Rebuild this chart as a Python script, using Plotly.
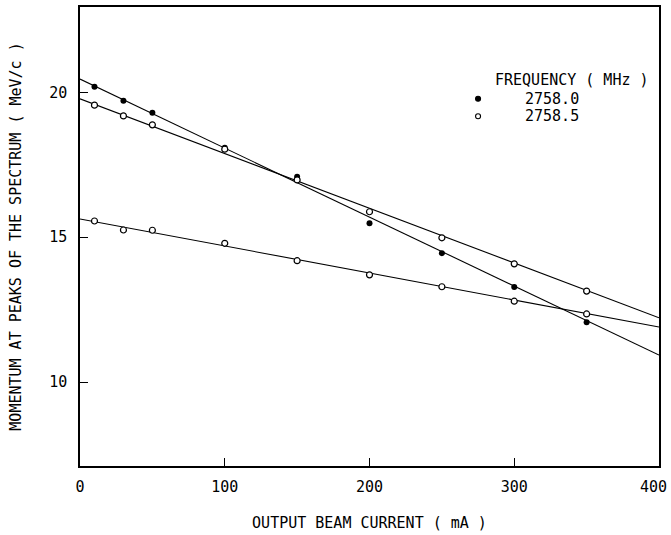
import plotly.graph_objects as go

# Beam current (mA) at which the spectrum peaks were measured
current = [10, 30, 50, 100, 150, 200, 250, 300, 350]

# Momentum at the spectrum peaks (MeV/c)
peak_2758_0 = [20.20, 19.71, 19.30, 18.09, 17.09, 15.48, 14.45, 13.28, 12.06]
peak_2758_5_high = [19.56, 19.19, 18.88, 18.04, 16.98, 15.88, 14.98, 14.08, 13.14]
peak_2758_5_low = [15.56, 15.25, 15.24, 14.79, 14.19, 13.70, 13.29, 12.79, 12.35]

# Straight-line fits through each set, given by their end values
fit_current = [0, 400]
fit_2758_0 = [20.46, 10.93]
fit_2758_5_high = [19.78, 12.22]
fit_2758_5_low = [15.63, 11.90]

x_ticks = [0, 100, 200, 300, 400]
y_ticks = [10, 15, 20]

FONT = "DejaVu Sans Mono"
INK = "black"

fig = go.Figure()

for fit in (fit_2758_0, fit_2758_5_high, fit_2758_5_low):
    fig.add_trace(go.Scatter(
        x=fit_current, y=fit, mode="lines",
        line=dict(color=INK, width=1.1), showlegend=False, hoverinfo="skip",
    ))

fig.add_trace(go.Scatter(
    x=current, y=peak_2758_0, mode="markers", name="2758.0",
    marker=dict(symbol="circle", size=6, color=INK, line=dict(color=INK, width=0)),
    showlegend=False,
))
for series in (peak_2758_5_high, peak_2758_5_low):
    fig.add_trace(go.Scatter(
        x=current, y=series, mode="markers", name="2758.5",
        marker=dict(symbol="circle", size=6, color="white", line=dict(color=INK, width=1.2)),
        showlegend=False,
    ))

# Key in the upper right corner
key_x = 275
fig.add_annotation(x=285, y=20.43, xref="x", yref="y", text="FREQUENCY ( MHz )",
                   showarrow=False, xanchor="left", yanchor="middle",
                   font=dict(family=FONT, size=15, color=INK))
for yv, label, fill in ((19.78, "2758.0", INK), (19.18, "2758.5", "white")):
    fig.add_shape(type="circle", xref="x", yref="y", xsizemode="pixel", ysizemode="pixel",
                  xanchor=key_x, yanchor=yv, x0=-2.5, x1=2.5, y0=-2.5, y1=2.5,
                  fillcolor=fill, line=dict(color=INK, width=1.1))
    fig.add_annotation(x=306, y=yv, xref="x", yref="y", text=label,
                       showarrow=False, xanchor="left", yanchor="middle",
                       font=dict(family=FONT, size=15, color=INK))

axis_common = dict(
    showline=True, linecolor=INK, linewidth=1.5, mirror=True,
    showgrid=False, zeroline=False,
    ticks="inside", ticklen=8, tickwidth=1.2, tickcolor=INK,
    tickfont=dict(family=FONT, size=15, color=INK),
    automargin=False,
)

# The last x label sits flush against the right edge, so it is placed
# right-aligned at its tick instead of centred on it.
x_labels = [str(v) for v in x_ticks]
x_labels[-1] = ""
fig.add_annotation(x=x_ticks[-1], y=0, xref="x", yref="paper", text=str(x_ticks[-1]),
                   showarrow=False, xanchor="right", yanchor="top", xshift=10, yshift=-10,
                   font=dict(family=FONT, size=15, color=INK))

fig.update_xaxes(
    range=[0, 400], tickvals=x_ticks, ticktext=x_labels,
    title=dict(text="OUTPUT BEAM CURRENT ( mA )", font=dict(family=FONT, size=15, color=INK),
               standoff=23),
    ticklabelstandoff=6,
    **axis_common,
)
fig.update_yaxes(
    range=[7.1, 22.95], tickvals=y_ticks, ticktext=[str(v) for v in y_ticks],
    title=dict(text="MOMENTUM AT PEAKS OF THE SPECTRUM ( MeV/c )",
               font=dict(family=FONT, size=15, color=INK), standoff=24),
    ticklabelstandoff=8,
    **axis_common,
)

fig.update_layout(
    width=671, height=535,
    margin=dict(l=80, r=12, t=7, b=69),
    paper_bgcolor="white", plot_bgcolor="white",
    showlegend=False,
)

fig.write_html("out.html")
